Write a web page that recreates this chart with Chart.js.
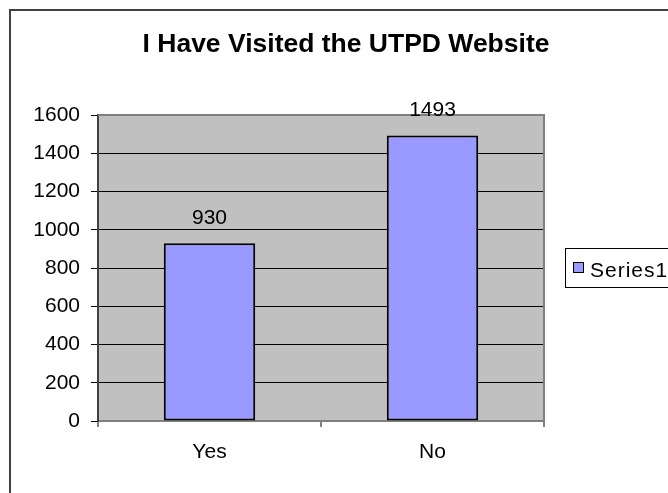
<!DOCTYPE html>
<html>
<head>
<meta charset="utf-8">
<script src="https://cdn.jsdelivr.net/npm/chart.js@4"></script>
<style>
  html, body { margin: 0; padding: 0; background: #fff; }
  canvas { display: block; }
</style>
</head>
<body>
<canvas id="chart" width="668" height="493"></canvas>
<script>
// données
const TITLE = "I Have Visited the UTPD Website";
const categories = ["Yes", "No"];
const series1 = [930, 1493];
const seriesName = "Series1";
const yTicks = [0, 200, 400, 600, 800, 1000, 1200, 1400, 1600];

const FONT = "'Liberation Sans', Arial, sans-serif";
const BAR = "#9999FF";

// cadre, fond gris, titre, légende, étiquettes
const decor = {
  id: "decor",
  beforeDraw(chart){
    const c = chart.ctx, a = chart.chartArea;
    c.save();
    c.fillStyle = "#fff";
    c.fillRect(0, 0, chart.width, chart.height);
    c.strokeStyle = "#404040"; c.lineWidth = 2;
    c.strokeRect(10, 10, 720, 520);
    c.fillStyle = "#C0C0C0";
    c.fillRect(a.left, a.top, a.right - a.left, a.bottom - a.top);
    c.fillStyle = "#000";
    c.font = "bold 26.5px " + FONT;
    c.textAlign = "center"; c.textBaseline = "alphabetic";
    c.fillText(TITLE, 346, 52);
    c.restore();
  },
  afterDatasetsDraw(chart){
    const c = chart.ctx, a = chart.chartArea;
    c.save();
    // bord haut / droit de la zone de tracé
    c.strokeStyle = "#808080"; c.lineWidth = 2;
    c.beginPath();
    c.moveTo(a.left, a.top); c.lineTo(a.right, a.top); c.lineTo(a.right, a.bottom);
    c.stroke();
    // valeurs au-dessus des barres
    c.fillStyle = "#000";
    c.font = "21px " + FONT;
    c.textAlign = "center"; c.textBaseline = "middle";
    const meta = chart.getDatasetMeta(0);
    meta.data.forEach((bar, i) => {
      c.fillText(String(chart.data.datasets[0].data[i]), bar.x, bar.y - 25);
    });
    // légende
    const ds = chart.data.datasets[0];
    c.fillStyle = "#fff";
    c.fillRect(565, 248, 140, 39);
    c.strokeStyle = "#000"; c.lineWidth = 1;
    c.strokeRect(565.5, 248.5, 140, 39);
    c.fillStyle = ds.backgroundColor;
    c.fillRect(573.5, 262.5, 10, 10);
    c.strokeRect(573.5, 262.5, 10, 10);
    c.fillStyle = "#000";
    c.textAlign = "left"; c.textBaseline = "alphabetic";
    c.font = "21px " + FONT;
    c.letterSpacing = "1px";
    c.fillText(ds.label, 590, 277);
    c.restore();
  }
};

new Chart(document.getElementById("chart").getContext("2d"), {
  type: "bar",
  data: {
    labels: categories,
    datasets: [{
      label: seriesName,
      data: series1,
      backgroundColor: BAR,
      borderColor: "#000",
      borderWidth: 2,
      borderSkipped: false,
      barPercentage: 0.41,
      categoryPercentage: 1
    }]
  },
  options: {
    responsive: false,
    animation: false,
    layout: { padding: { left: 0, right: 124, top: 115, bottom: 0 } },
    plugins: { legend: { display: false }, title: { display: false }, tooltip: { enabled: false } },
    scales: {
      x: {
        afterFit: (s) => { s.height = 72; },
        grid: { drawOnChartArea: false, drawTicks: true, tickLength: 6, color: "#808080", lineWidth: 2, offset: true },
        border: { color: "#808080", width: 2 },
        ticks: { color: "#000", font: { family: FONT, size: 21 }, padding: 13 }
      },
      y: {
        min: yTicks[0],
        max: yTicks[yTicks.length - 1],
        afterFit: (s) => { s.width = 98; },
        afterBuildTicks: (s) => { s.ticks = yTicks.map(v => ({ value: v })); },
        grid: { color: "#000", lineWidth: 1, tickLength: 7 },
        border: { color: "#404040", width: 2 },
        ticks: { color: "#000", font: { family: FONT, size: 21 }, padding: 11, callback: (v) => String(v) }
      }
    }
  },
  plugins: [decor]
});
</script>
</body>
</html>
